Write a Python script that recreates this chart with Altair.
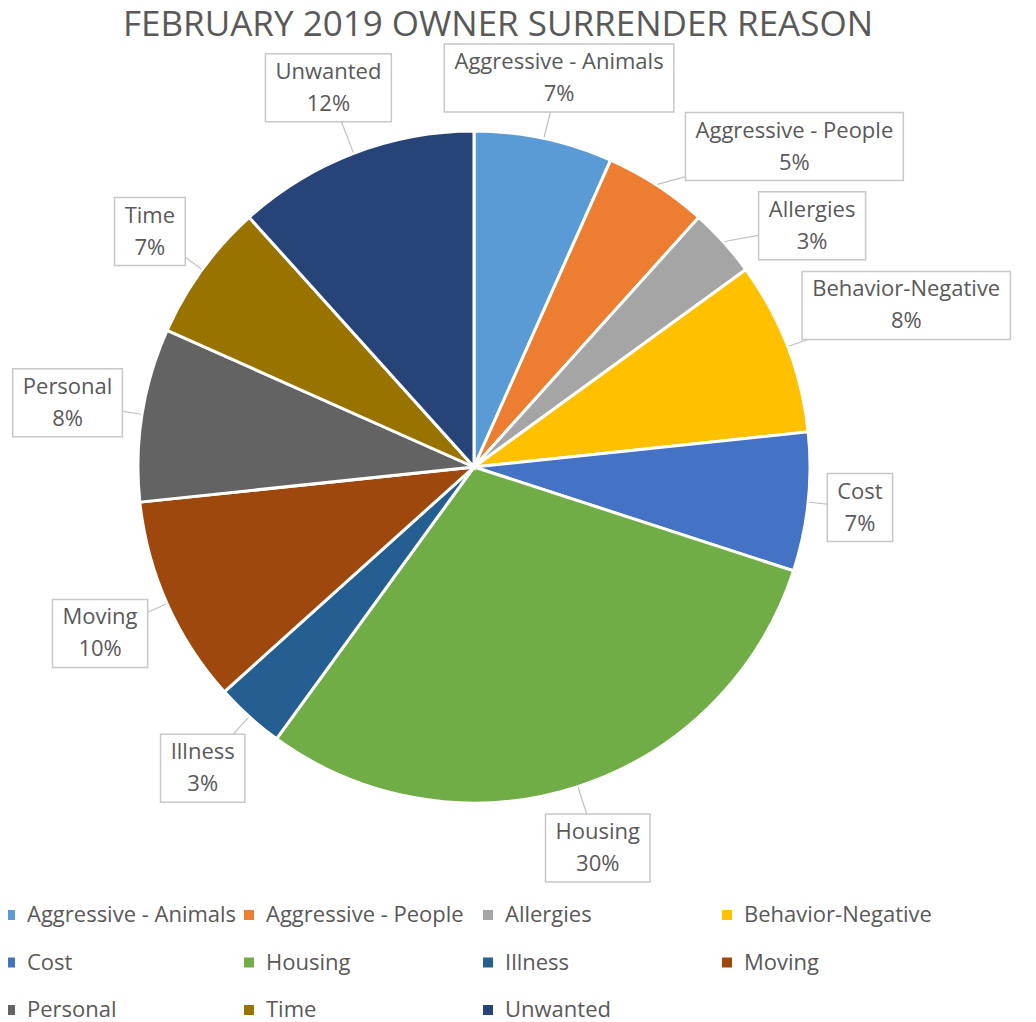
import math
import altair as alt
import pandas as pd

# ---- data ----
categories = ["Aggressive - Animals", "Aggressive - People", "Allergies",
              "Behavior-Negative", "Cost", "Housing", "Illness", "Moving",
              "Personal", "Time", "Unwanted"]
counts = [4, 3, 2, 5, 4, 18, 2, 6, 5, 4, 7]
colors = ["#5B9BD5", "#ED7D31", "#A5A5A5", "#FFC000", "#4472C4", "#70AD47",
          "#255E91", "#9E480E", "#636363", "#997300", "#264478"]
title_text = "FEBRUARY 2019 OWNER SURRENDER REASON"

# ---- style / layout ----
FONT = "Open Sans"
TXT = "#595959"
LABEL_SIZE = 22
LINE_H = 32
R = 336          # pie radius (px)
R0 = 352         # distance from centre at which callouts start
HALF_H = 34      # half height of a callout box
PAD = 10         # horizontal padding inside callout box
GAP = 10
TOP_CLEAR = 423  # callouts stay below the title
W, H = 1020, 830
CX, CY = 475, 406   # pie centre inside the plot area

# rough Open Sans advance widths (em) to size the callout boxes
CW = {"A": .633, "B": .648, "C": .631, "H": .739, "I": .279, "M": .907, "N": .764,
      "P": .603, "T": .556, "U": .731, "a": .556, "b": .613, "c": .476, "d": .613,
      "e": .561, "f": .336, "g": .541, "h": .613, "i": .258, "l": .258, "m": .932,
      "n": .613, "o": .601, "p": .613, "r": .408, "s": .477, "t": .353, "u": .613,
      "v": .500, "w": .775, "y": .500, " ": .26, "-": .322, "%": .823}


def text_w(s):
    return sum(CW.get(ch, .572) for ch in s) * LABEL_SIZE


total = sum(counts)
rows, placed = [], []
cum = 0
for i, (cat, n) in enumerate(zip(categories, counts)):
    mid = 2 * math.pi * (cum + n / 2) / total
    cum += n
    pct = f"{round(100 * n / total)}%"
    hw = (max(text_w(cat), text_w(pct)) + 2 * PAD) / 2
    a = mid
    for _ in range(300):
        d = R0 + hw * abs(math.sin(a)) + HALF_H * abs(math.cos(a))
        x, y = d * math.sin(a), min(d * math.cos(a), TOP_CLEAR - HALF_H)
        box = (x - hw, x + hw, y - HALF_H, y + HALF_H)
        if all(box[1] + GAP <= b[0] or b[1] + GAP <= box[0] or
               box[3] + GAP <= b[2] or b[3] + GAP <= box[2] for b in placed):
            break
        a += math.radians(0.5)
    placed.append(box)
    rows.append(dict(idx=i, cat=cat, count=n, label=f"{cat}\n{pct}",
                     lx=x, ly=y, bx1=box[0], bx2=box[1], by1=box[2], by2=box[3],
                     ex=(R + 1) * math.sin(mid), ey=(R + 1) * math.cos(mid)))

df = pd.DataFrame(rows)

xs = alt.Scale(domain=[-CX, W - CX])
ys = alt.Scale(domain=[CY - H, CY])

base = alt.Chart(df)

pie = base.mark_arc(outerRadius=R, stroke="white", strokeWidth=3).encode(
    theta=alt.Theta("count:Q", stack=True),
    order=alt.Order("idx:Q"),
    x=alt.datum(0, type="quantitative", scale=xs, axis=None),
    y=alt.datum(0, type="quantitative", scale=ys, axis=None),
    color=alt.Color("cat:N", sort=categories,
                    scale=alt.Scale(domain=categories, range=colors),
                    legend=alt.Legend(title=None, orient="none", legendX=0, legendY=843,
                                      direction="horizontal",
                                      columns=4, gridAlign="all", symbolType="square",
                                      symbolSize=100, symbolStrokeWidth=0,
                                      labelFont=FONT, labelFontSize=22, labelColor=TXT,
                                      labelOffset=6, columnPadding=1, rowPadding=25.5,
                                      labelLimit=400)),
)

leaders = base.mark_rule(color="#BFBFBF", strokeWidth=1.2).encode(
    x=alt.X("ex:Q", scale=xs, axis=None), y=alt.Y("ey:Q", scale=ys, axis=None),
    x2="lx:Q", y2="ly:Q")

boxes = base.mark_rect(fill="white", stroke="#C8C8C8", strokeWidth=1.5).encode(
    x=alt.X("bx1:Q", scale=xs, axis=None), x2="bx2:Q",
    y=alt.Y("by1:Q", scale=ys, axis=None), y2="by2:Q")

labels = base.mark_text(font=FONT, fontSize=LABEL_SIZE, color=TXT, lineBreak="\n",
                        lineHeight=LINE_H, align="center", baseline="middle",
                        dy=-LINE_H / 2).encode(
    x=alt.X("lx:Q", scale=xs, axis=None), y=alt.Y("ly:Q", scale=ys, axis=None),
    text="label:N")

chart = alt.layer(pie, leaders, boxes, labels).properties(
    width=W, height=H,
    padding={"top": 0, "left": -9, "right": 0, "bottom": 10},
    title=alt.Title(title_text, font=FONT, fontSize=35, fontWeight="normal",
                    color=TXT, anchor="middle", dx=-11, offset=0),
).configure_view(stroke=None)

chart.save("out.html", embed_options={"renderer": "svg", "actions": False})
